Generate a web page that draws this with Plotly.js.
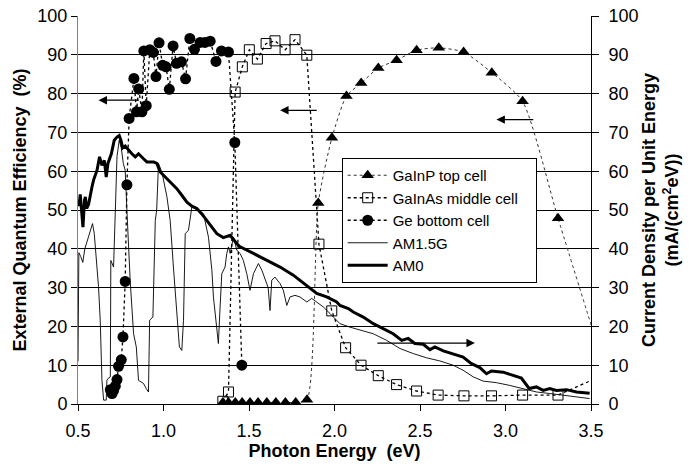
<!DOCTYPE html>
<html>
<head>
<meta charset="utf-8">
<script src="https://cdn.plot.ly/plotly-3.0.1.min.js"></script>
<style>html,body{margin:0;padding:0;background:#fff;}#chart{width:697px;height:466px;}</style>
</head>
<body>
<div id="chart"></div>
<script>
// GaInP top cell (EQE %)
const gainpX = [1.347,1.38,1.42,1.46,1.506,1.553,1.604,1.657,1.713,1.773,1.839,1.905,1.985,2.07,2.156,2.256,2.363,2.48,2.61,2.755,2.92,3.10,3.307,3.56];
const gainpY = [0.4,0.4,0.4,0.4,0.4,0.4,0.4,0.4,0.4,0.4,1.1,51.8,68.6,79.4,82.7,86.6,88.6,91.2,91.8,90.7,85.4,78.0,47.9,12];
// GaInAs middle cell (EQE %)
const gainasX = [1.347,1.38,1.419,1.461,1.502,1.549,1.60,1.652,1.711,1.769,1.838,1.909,1.984,2.065,2.155,2.256,2.363,2.48,2.606,2.757,2.918,3.10,3.307,3.6];
const gainasY = [0.7,3.1,80.4,86.9,91.3,88.9,92.9,93.6,91.3,93.9,89.9,41.2,24.0,14.5,10.0,7.3,5.0,3.35,2.3,2.1,2.1,2.3,2.3,8];
// Ge bottom cell (EQE %)
const geX = [0.689,0.699,0.708,0.718,0.728,0.737,0.753,0.763,0.776,0.786,0.799,0.827,0.842,0.855,0.874,0.885,0.899,0.920,0.940,0.956,0.974,0.995,1.015,1.034,1.056,1.076,1.105,1.129,1.154,1.181,1.214,1.242,1.273,1.307,1.339,1.38,1.417,1.458];
const geY = [3.7,2.7,3.5,4.6,6.3,9.7,11.4,17.3,31.6,56.5,73.6,83.9,75.3,81.2,75.3,91.0,76.9,91.3,90.6,84.4,93.1,87.3,86.9,81.1,92.3,87.8,88.2,83.8,94.2,91.4,93.2,93.2,93.5,88.3,91.0,90.7,67.4,10.0];
// AM1.5G spectrum (mA/(cm2 eV))
const am15X = [0.500,0.505,0.516,0.528,0.540,0.560,0.585,0.595,0.620,0.630,0.640,0.650,0.665,0.669,0.674,0.689,0.692,0.708,0.715,0.728,0.741,0.753,0.765,0.776,0.786,0.805,0.825,0.841,0.854,0.883,0.899,0.912,0.919,0.938,0.952,0.960,0.971,0.992,1.020,1.039,1.058,1.078,1.093,1.107,1.117,1.127,1.146,1.166,1.197,1.234,1.263,1.283,1.292,1.302,1.312,1.321,1.331,1.341,1.360,1.370,1.380,1.390,1.409,1.429,1.448,1.467,1.487,1.506,1.526,1.555,1.575,1.594,1.612,1.623,1.633,1.652,1.682,1.701,1.721,1.740,1.769,1.798,1.838,1.867,1.896,1.935,1.974,2.013,2.032,2.091,2.149,2.227,2.305,2.383,2.460,2.539,2.616,2.694,2.752,2.811,2.869,2.947,3.024,3.103,3.181,3.259,3.356,3.434,3.492];
const am15Y = [11,39,38,36.5,40,43,46.5,44,30.2,21.6,6.1,1,1,6.1,6.5,7,37,35.3,45,63.7,68,66,62,60.2,49.9,31.9,18.1,14.7,6.1,5.3,4,3.1,21.6,22.4,47.3,50,62,59.5,53.4,47.3,35.3,23.3,14.7,13.8,21.6,43.9,44.8,50.8,50,49,43,34.5,27.6,23.3,18.1,15.6,25,33.6,35.3,38.8,40.5,38.8,43,39.6,38.8,37,33.6,29.3,33.6,36.2,34.5,31.9,30,24.1,31.9,32.7,31,29.3,25.4,27.6,28,27.6,26.3,27.2,26.3,25,23.3,21.6,20.7,19.8,19,18.1,16.4,14.3,13,11.9,11.1,10,8.7,7,5.9,5.5,4.8,4.0,3.1,2.7,2.1,1.6,1.4];
// AM0 spectrum (mA/(cm2 eV))
const am0X = [0.500,0.506,0.513,0.522,0.529,0.538,0.543,0.551,0.562,0.582,0.591,0.611,0.626,0.640,0.654,0.665,0.675,0.695,0.712,0.728,0.741,0.751,0.761,0.776,0.796,0.815,0.835,0.854,0.883,0.903,0.942,0.961,0.981,1.010,1.039,1.078,1.107,1.137,1.166,1.195,1.224,1.253,1.283,1.312,1.350,1.390,1.429,1.448,1.526,1.604,1.682,1.759,1.838,1.896,1.954,2.013,2.032,2.081,2.110,2.168,2.227,2.285,2.343,2.393,2.431,2.470,2.519,2.558,2.587,2.636,2.694,2.752,2.801,2.850,2.889,2.918,2.986,3.044,3.093,3.138,3.181,3.220,3.259,3.298,3.356,3.415,3.463,3.492];
const am0Y = [52.5,51,54,48,45.6,52.5,53.4,50.4,51.5,56,57.7,60.2,63.7,61.5,62.8,58.5,62,64.5,68,68.8,69.2,68,66,66.5,65.4,64.5,63.7,64.5,63.2,62.4,62.4,62,59.8,58.5,57.2,55.5,53.8,52,51,50.4,49,47.3,45.6,43.9,42.9,43.5,41.3,40.5,38.8,37,35.3,33.2,30.6,28.5,27.6,26.3,25.4,24.6,23.7,22.4,20.7,19.4,18.1,16.4,16.9,15.6,15.4,14,14.7,13.7,12.8,12.1,10.4,9.4,7.8,8.5,8.2,7.4,6.7,4.0,4.4,3.5,4.0,3.5,3.7,3.1,2.8,2.8];

const xTicks = [0.5,1.0,1.5,2.0,2.5,3.0,3.5];
const yTicks = [0,10,20,30,40,50,60,70,80,90,100];

const FONT = 'Arial, "Liberation Sans", sans-serif';

const traces = [
  {x: am15X, y: am15Y, yaxis: 'y2', name: 'AM1.5G', mode: 'lines', legendrank: 4,
   line: {color: '#000', width: 0.9}},
  {x: am0X, y: am0Y, yaxis: 'y2', name: 'AM0', mode: 'lines', legendrank: 5,
   line: {color: '#000', width: 3}},
  {x: geX, y: geY, name: 'Ge bottom cell', mode: 'lines+markers', legendrank: 3,
   line: {color: '#000', width: 1.3, dash: 'dot'},
   marker: {symbol: 'circle', size: 11, color: '#000'}},
  {x: gainasX, y: gainasY, name: 'GaInAs middle cell\u00a0\u00a0\u00a0', mode: 'lines+markers', legendrank: 2,
   line: {color: '#000', width: 1.3, dash: 'dot'},
   marker: {symbol: 'square-open', size: 10, color: '#000', line: {width: 1}}},
  {x: gainpX, y: gainpY, name: 'GaInP top cell', mode: 'lines+markers', legendrank: 1,
   line: {color: '#333', width: 1, dash: 'dot', shape: 'spline', smoothing: 0.6},
   marker: {symbol: 'triangle-up', size: 11, color: '#000'}}
];

function arrow(x, y, ax, ay) {
  return {x: x, y: y, ax: ax, ay: ay, xref: 'x', yref: 'y', axref: 'x', ayref: 'y',
    text: '', showarrow: true, arrowhead: 2, arrowsize: 1.3, arrowwidth: 1.3,
    arrowcolor: '#000', standoff: 0, startstandoff: 0};
}

const layout = {
  width: 697, height: 466,
  margin: {l: 78, r: 106, t: 16, b: 62},
  paper_bgcolor: '#fff', plot_bgcolor: '#fff',
  font: {family: FONT, size: 18, color: '#000'},
  showlegend: true,
  legend: {x: 0.514, y: 0.634, xanchor: 'left', yanchor: 'top',
    bordercolor: '#000', borderwidth: 1, bgcolor: '#fff',
    font: {family: FONT, size: 15, color: '#000'}, tracegroupgap: 0, itemwidth: 40},
  xaxis: {range: [0.5, 3.5], tickvals: xTicks, ticktext: xTicks.map(v => v.toFixed(1)),
    ticks: 'outside', ticklen: 6, tickcolor: '#000', showgrid: false, zeroline: false,
    showline: true, linecolor: '#000', linewidth: 1, ticklabelstandoff: 4,
    tickfont: {family: FONT, size: 18},
    title: {text: '<b>Photon Energy\u00a0\u00a0(eV)</b>', font: {family: FONT, size: 18}, standoff: 4}},
  yaxis: {range: [0, 100], tickvals: yTicks, ticks: 'outside', ticklen: 6, tickcolor: '#000',
    showgrid: true, gridcolor: '#000', gridwidth: 1, zeroline: false,
    showline: true, linecolor: '#808080', linewidth: 1,
    tickfont: {family: FONT, size: 18},
    title: {text: '<b>External Quantum Efficiency\u00a0\u00a0(%)</b>', font: {family: FONT, size: 18}, standoff: 6}},
  yaxis2: {range: [0, 100], tickvals: yTicks, overlaying: 'y', side: 'right', anchor: 'x',
    ticks: 'outside', ticklen: 7, tickcolor: '#000', showgrid: false, zeroline: false,
    showline: true, linecolor: '#000', linewidth: 1, ticklabelstandoff: 6,
    tickfont: {family: FONT, size: 18},
    title: {text: '<b>Current Density per Unit Energy<br>(mA/(cm<sup>2</sup>eV))</b>', font: {family: FONT, size: 18}, standoff: 4}},
  annotations: [
    arrow(0.62, 78.3, 0.864, 78.3),
    arrow(1.682, 75.7, 1.905, 75.7),
    arrow(2.947, 73.3, 3.171, 73.3),
    arrow(2.821, 15.7, 2.242, 15.7)
  ]
};

Plotly.newPlot('chart', traces, layout, {displayModeBar: false, staticPlot: true});
</script>
</body>
</html>
